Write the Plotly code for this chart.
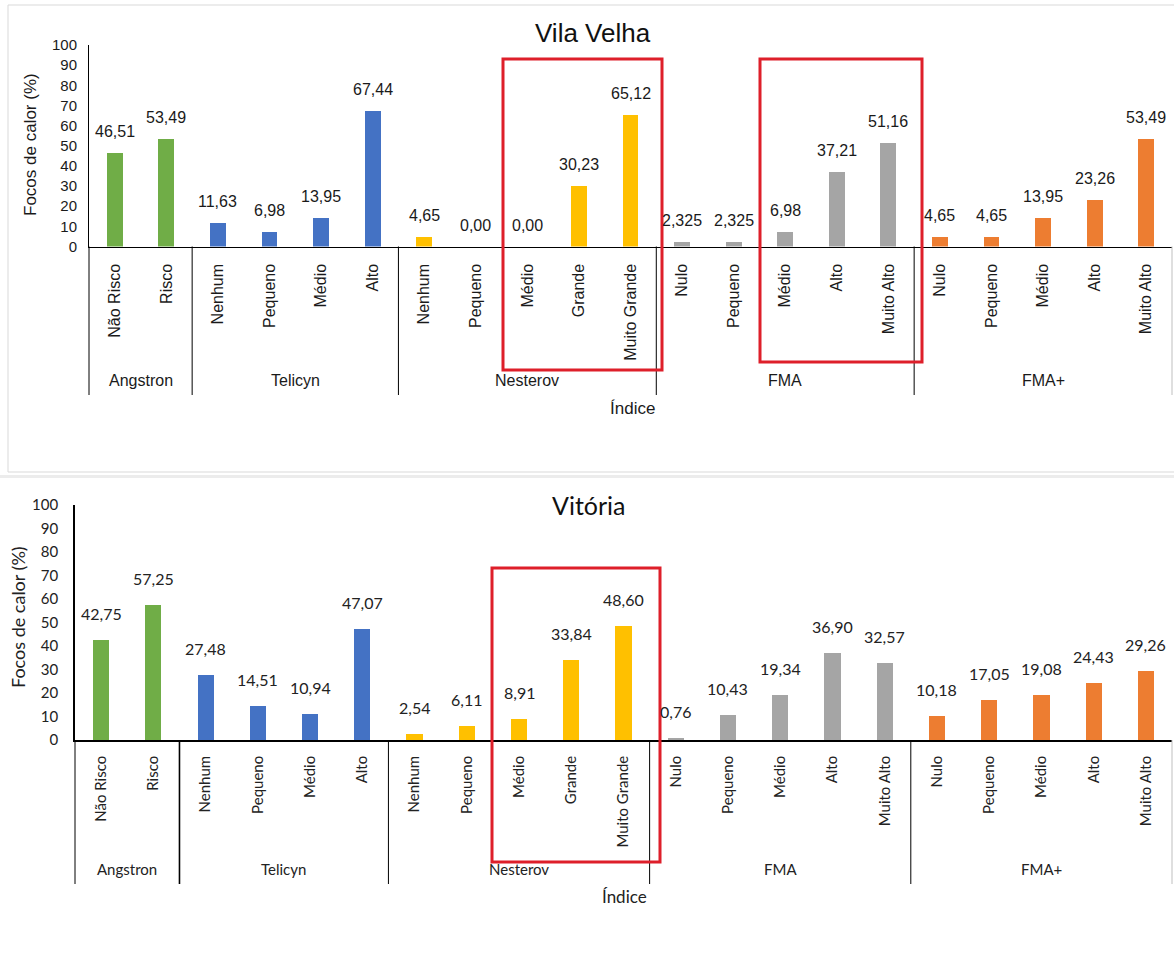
import plotly.graph_objects as go

# ---- data -------------------------------------------------------------
indices = ["Angstron", "Telicyn", "Nesterov", "FMA", "FMA+"]
classes_angstron = ["Não Risco", "Risco"]
classes_telicyn = ["Nenhum", "Pequeno", "Médio", "Alto"]
classes_nesterov = ["Nenhum", "Pequeno", "Médio", "Grande", "Muito Grande"]
classes_fma = ["Nulo", "Pequeno", "Médio", "Alto", "Muito Alto"]
classes_fma_plus = ["Nulo", "Pequeno", "Médio", "Alto", "Muito Alto"]

vila_velha_angstron = [46.51, 53.49]
vila_velha_telicyn = [11.63, 6.98, 13.95, 67.44]
vila_velha_nesterov = [4.65, 0.00, 0.00, 30.23, 65.12]
vila_velha_fma = [2.325, 2.325, 6.98, 37.21, 51.16]
vila_velha_fma_plus = [4.65, 4.65, 13.95, 23.26, 53.49]

vitoria_angstron = [42.75, 57.25]
vitoria_telicyn = [27.48, 14.51, 10.94, 47.07]
vitoria_nesterov = [2.54, 6.11, 8.91, 33.84, 48.60]
vitoria_fma = [0.76, 10.43, 19.34, 36.90, 32.57]
vitoria_fma_plus = [10.18, 17.05, 19.08, 24.43, 29.26]

y_ticks = [0, 10, 20, 30, 40, 50, 60, 70, 80, 90, 100]

index_colors = ["#70AD47", "#4472C4", "#FFC000", "#A5A5A5", "#ED7D31"]

class_lists = [classes_angstron, classes_telicyn, classes_nesterov,
               classes_fma, classes_fma_plus]
vila_velha = [vila_velha_angstron, vila_velha_telicyn, vila_velha_nesterov,
              vila_velha_fma, vila_velha_fma_plus]
vitoria = [vitoria_angstron, vitoria_telicyn, vitoria_nesterov,
           vitoria_fma, vitoria_fma_plus]

# ---- page geometry ----------------------------------------------------
W, H = 1174, 964


def px(x):
    return x / W


def py(y):
    return 1 - y / H


def fmt(v):
    s = f"{v:.3f}"
    if s.endswith("0"):
        s = s[:-1]
    return s.replace(".", ",")


# category positions along the axis
positions = []
group_bounds = [-0.5]
pos = 0
for cl in class_lists:
    positions.append(list(range(pos, pos + len(cl))))
    pos += len(cl)
    group_bounds.append(pos - 0.5)
n_cat = pos
all_labels = [c for cl in class_lists for c in cl]

panels = [
    dict(name="Vila Velha", values=vila_velha, xa="x", ya="y",
         x0=89, x1=1172, y0=246.5, y100=45, font="Liberation Sans, Arial",
         tick_size=15, cat_size=16, val_size=16, grp_size=16,
         title_xy=(593, 33), title_size=26, ytitle_xy=(30, 145), ytitle_size=17,
         index_xy=(632, 408), grp_y=381, div_bottom=395,
         axis_w=1, val_shift=11, color="#1a1a1a", cat_standoff=10),
    dict(name="Vitória", values=vitoria, xa="x2", ya="y2",
         x0=75, x1=1172, y0=740, y100=505, font="Lato, Noto Sans",
         tick_size=15, cat_size=15, val_size=16, grp_size=15,
         title_xy=(589, 505), title_size=25, ytitle_xy=(18, 617), ytitle_size=18,
         index_xy=(624, 896), grp_y=869, div_bottom=884,
         axis_w=1.6, val_shift=15, color="#222222", cat_standoff=8),
]

fig = go.Figure()
annotations = []
shapes = []

for p in panels:
    for g, vals in enumerate(p["values"]):
        fig.add_trace(go.Bar(
            x=positions[g], y=vals, width=0.31,
            marker=dict(color=index_colors[g], line=dict(width=0)),
            xaxis=p["xa"], yaxis=p["ya"], hoverinfo="skip",
        ))
        # value labels above each bar
        for xi, v in zip(positions[g], vals):
            annotations.append(dict(
                x=xi, y=v, xref=p["xa"], yref=p["ya"], text=fmt(v),
                showarrow=False, yanchor="bottom", yshift=p["val_shift"],
                font=dict(family=p["font"], size=p["val_size"], color=p["color"]),
            ))

    # index group names below the class labels
    for g, name in enumerate(indices):
        annotations.append(dict(
            x=(positions[g][0] + positions[g][-1]) / 2, y=py(p["grp_y"]),
            xref=p["xa"], yref="paper", text=name, showarrow=False,
            yanchor="middle",
            font=dict(family=p["font"], size=p["grp_size"], color=p["color"]),
        ))

    # vertical separators between index groups
    dom_ref = p["xa"] + " domain"
    for k, b in enumerate(group_bounds):
        frac = (b + 0.5) / n_cat
        lw = p["axis_w"] if (k == 1 and p["name"] == "Vitória") else 1
        col = "#000000" if k < len(group_bounds) - 1 else "#bfbfbf"
        shapes.append(dict(
            type="line", xref=dom_ref, yref="paper",
            x0=frac, x1=frac, y0=py(p["y0"]), y1=py(p["div_bottom"]),
            line=dict(color=col, width=lw),
        ))

    annotations.append(dict(
        x=px(p["title_xy"][0]), y=py(p["title_xy"][1]), xref="paper",
        yref="paper", text=p["name"], showarrow=False,
        xanchor="center", yanchor="middle",
        font=dict(family=p["font"], size=p["title_size"], color="#111111"),
    ))
    annotations.append(dict(
        x=px(p["ytitle_xy"][0]), y=py(p["ytitle_xy"][1]), xref="paper",
        yref="paper", text="Focos de calor (%)", showarrow=False,
        textangle=-90, xanchor="center", yanchor="middle",
        font=dict(family=p["font"], size=p["ytitle_size"], color=p["color"]),
    ))
    annotations.append(dict(
        x=px(p["index_xy"][0]), y=py(p["index_xy"][1]), xref="paper",
        yref="paper", text="Índice", showarrow=False,
        xanchor="center", yanchor="middle",
        font=dict(family=p["font"], size=17, color=p["color"]),
    ))

# highlight boxes
highlight_boxes = [(503, 59, 662, 370), (760, 59, 922, 362), (492, 568, 660, 862)]
for (x0, y0, x1, y1) in highlight_boxes:
    shapes.append(dict(
        type="rect", xref="paper", yref="paper",
        x0=px(x0), x1=px(x1), y0=py(y0), y1=py(y1),
        line=dict(color="#DE1F2A", width=3), fillcolor="rgba(0,0,0,0)",
    ))

# frame of the upper chart and the band beneath it
shapes.append(dict(type="rect", xref="paper", yref="paper",
                   x0=px(8), x1=px(1190), y0=py(472), y1=py(5),
                   line=dict(color="#d9d9d9", width=1),
                   fillcolor="rgba(0,0,0,0)", layer="below"))
shapes.append(dict(type="rect", xref="paper", yref="paper",
                   x0=0, x1=1, y0=py(478), y1=py(475),
                   line=dict(width=0), fillcolor="#ececec", layer="below"))

layout_axes = {}
for i, p in enumerate(panels):
    sx = "" if i == 0 else "2"
    layout_axes["xaxis" + sx] = dict(
        domain=[px(p["x0"]), px(p["x1"])], range=[-0.5, n_cat - 0.5],
        anchor="y" + sx, tickvals=list(range(n_cat)), ticktext=all_labels,
        tickangle=-90, ticks="outside", ticklen=p["cat_standoff"],
        tickcolor="rgba(0,0,0,0)", showgrid=False, zeroline=False,
        showline=True, linecolor="#000000", linewidth=p["axis_w"],
        tickfont=dict(family=p["font"], size=p["cat_size"], color=p["color"]),
        fixedrange=True, automargin=False,
    )
    layout_axes["yaxis" + sx] = dict(
        domain=[py(p["y0"]), py(p["y100"])], range=[0, 100],
        anchor="x" + sx, tickvals=y_ticks, ticks="outside",
        ticklen=8 if i == 0 else 12, tickcolor="rgba(0,0,0,0)",
        showgrid=False, zeroline=False, showline=True,
        linecolor="#000000", linewidth=p["axis_w"],
        tickfont=dict(family=p["font"], size=p["tick_size"], color=p["color"]),
        fixedrange=True, automargin=False,
    )

fig.update_layout(
    width=W, height=H, margin=dict(l=0, r=0, t=0, b=0, autoexpand=False),
    paper_bgcolor="white", plot_bgcolor="white", showlegend=False,
    bargap=0, annotations=annotations, shapes=shapes, **layout_axes,
)

fig.write_html("out.html", config={"displayModeBar": False})
